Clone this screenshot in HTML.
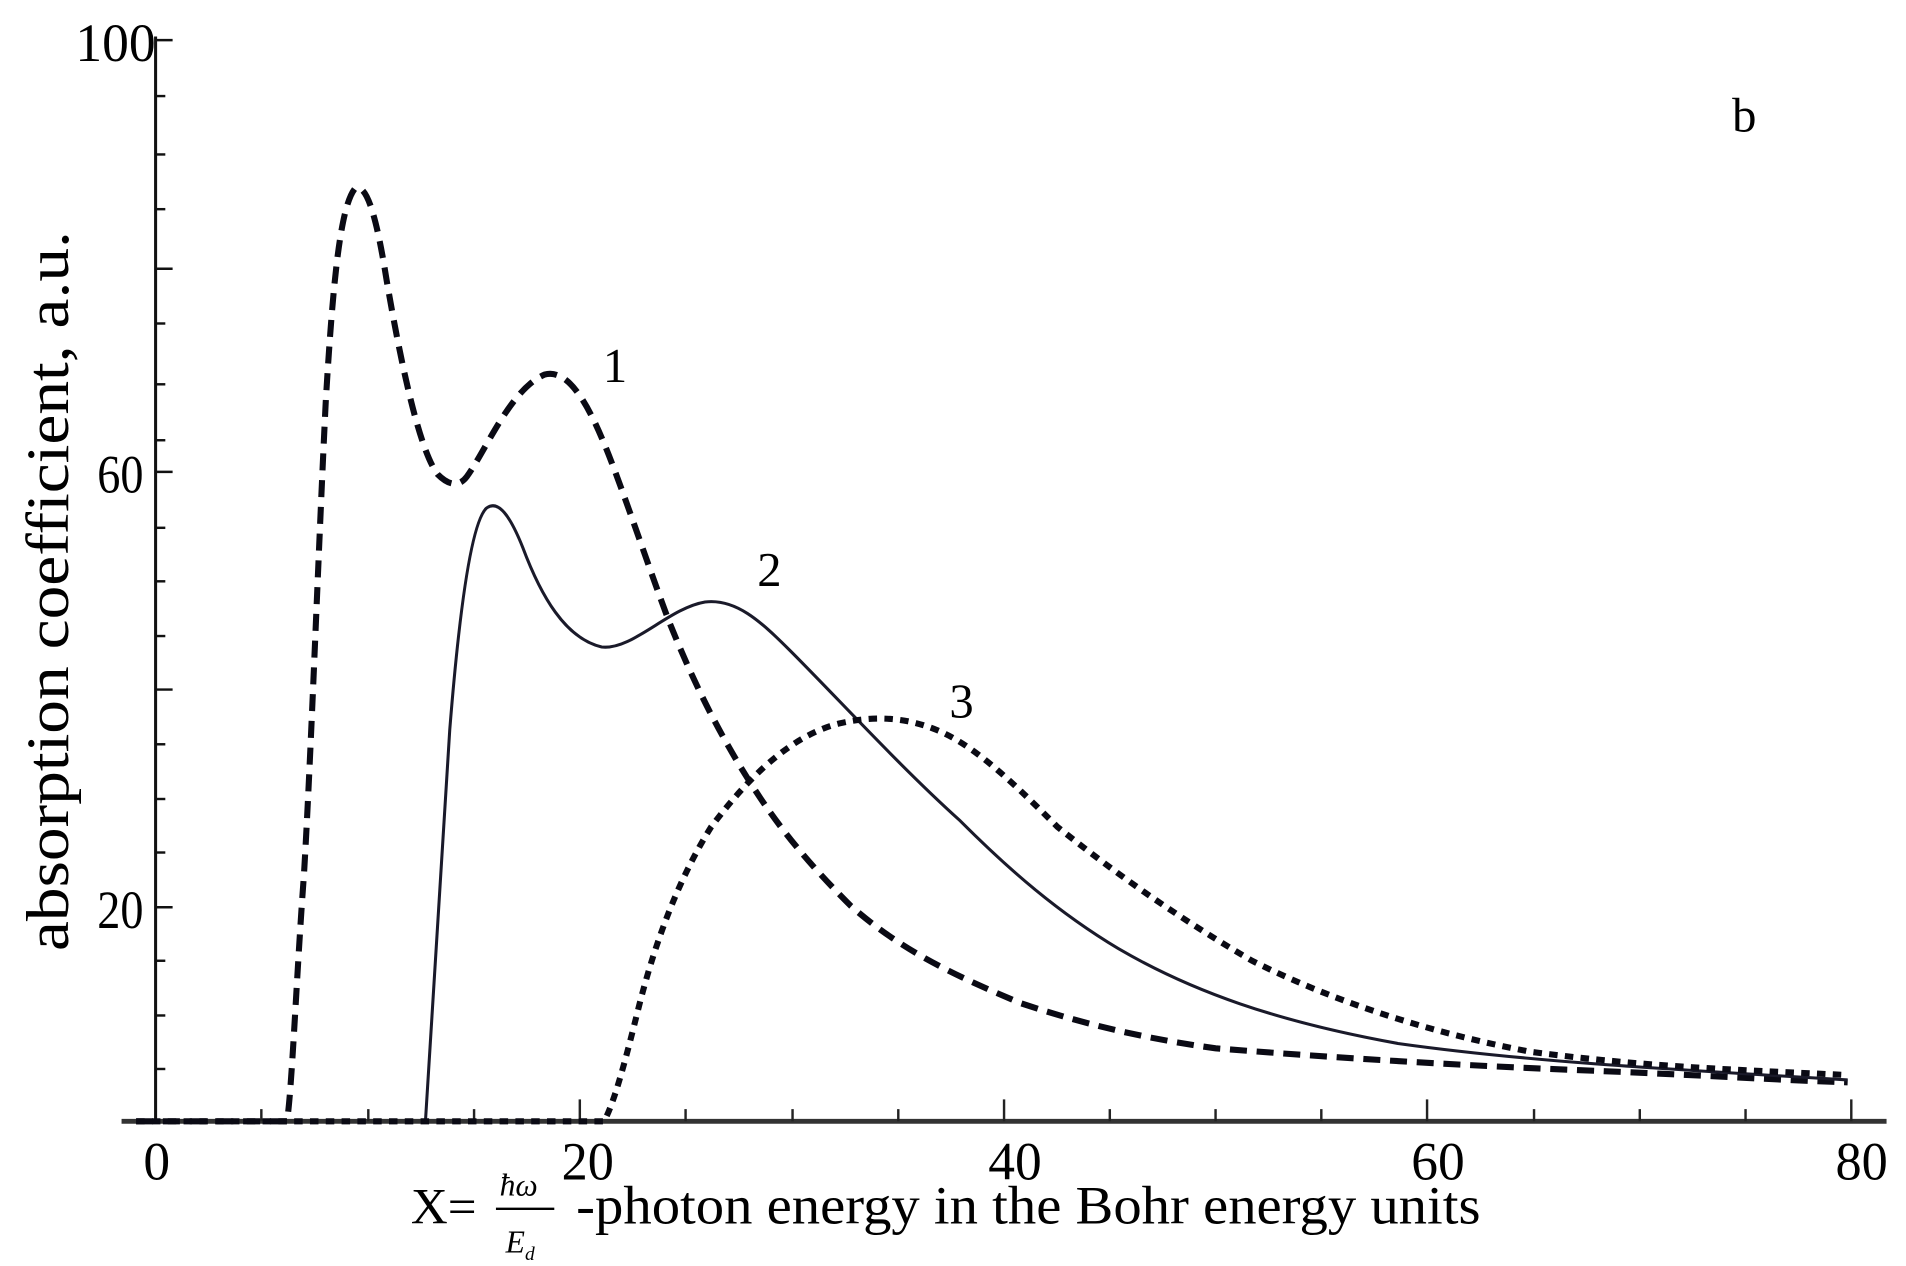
<!DOCTYPE html>
<html><head><meta charset="utf-8"><style>
html,body{margin:0;padding:0;background:#fff;}
svg{display:block;}
text{font-family:"Liberation Serif",serif;fill:#000;}
</style></head><body>
<svg width="1906" height="1266" viewBox="0 0 1568 1041" preserveAspectRatio="none" xmlns="http://www.w3.org/2000/svg">
<rect width="1568" height="1041" fill="#fff"/>
<line x1="128" y1="30" x2="128" y2="924" stroke="#111" stroke-width="2.5"/>
<line x1="100" y1="922" x2="1552" y2="922" stroke="#333" stroke-width="4"/>
<g stroke="#111" stroke-width="2">
<line x1="128" y1="33" x2="142" y2="33"/>
<line x1="128" y1="79" x2="136" y2="79"/>
<line x1="128" y1="127" x2="136" y2="127"/>
<line x1="128" y1="172" x2="136" y2="172"/>
<line x1="128" y1="221" x2="142" y2="221"/>
<line x1="128" y1="266" x2="136" y2="266"/>
<line x1="128" y1="316" x2="136" y2="316"/>
<line x1="128" y1="362" x2="136" y2="362"/>
<line x1="128" y1="388" x2="142" y2="388"/>
<line x1="128" y1="434" x2="136" y2="434"/>
<line x1="128" y1="478" x2="136" y2="478"/>
<line x1="128" y1="523" x2="136" y2="523"/>
<line x1="128" y1="567" x2="142" y2="567"/>
<line x1="128" y1="612" x2="136" y2="612"/>
<line x1="128" y1="657" x2="136" y2="657"/>
<line x1="128" y1="701" x2="136" y2="701"/>
<line x1="128" y1="746" x2="142" y2="746"/>
<line x1="128" y1="790" x2="136" y2="790"/>
<line x1="128" y1="835" x2="136" y2="835"/>
<line x1="128" y1="879" x2="136" y2="879"/>
</g>
<g stroke="#222" stroke-width="2">
<line x1="215" y1="922" x2="215" y2="912"/>
<line x1="303" y1="922" x2="303" y2="912"/>
<line x1="390" y1="922" x2="390" y2="912"/>
<line x1="477" y1="922" x2="477" y2="904"/>
<line x1="564" y1="922" x2="564" y2="912"/>
<line x1="652" y1="922" x2="652" y2="912"/>
<line x1="739" y1="922" x2="739" y2="912"/>
<line x1="826" y1="922" x2="826" y2="904"/>
<line x1="913" y1="922" x2="913" y2="912"/>
<line x1="1000" y1="922" x2="1000" y2="912"/>
<line x1="1087" y1="922" x2="1087" y2="912"/>
<line x1="1174" y1="922" x2="1174" y2="904"/>
<line x1="1262" y1="922" x2="1262" y2="912"/>
<line x1="1349" y1="922" x2="1349" y2="912"/>
<line x1="1436" y1="922" x2="1436" y2="912"/>
<line x1="1523" y1="922" x2="1523" y2="904"/>
</g>
<g font-size="44">
<text x="62" y="50" textLength="66" lengthAdjust="spacingAndGlyphs">100</text>
<text x="80" y="405" textLength="38" lengthAdjust="spacingAndGlyphs">60</text>
<text x="80" y="763" textLength="38" lengthAdjust="spacingAndGlyphs">20</text>
<text x="118" y="970" textLength="22" lengthAdjust="spacingAndGlyphs">0</text>
<text x="462" y="970" textLength="43" lengthAdjust="spacingAndGlyphs">20</text>
<text x="813" y="970" textLength="44" lengthAdjust="spacingAndGlyphs">40</text>
<text x="1161" y="970" textLength="44" lengthAdjust="spacingAndGlyphs">60</text>
<text x="1510" y="970" textLength="43" lengthAdjust="spacingAndGlyphs">80</text>
</g>
<text x="0" y="0" font-size="50" transform="translate(56,782) rotate(-90)" textLength="592" lengthAdjust="spacingAndGlyphs">absorption  coefficient, a.u.</text>
<text x="338" y="1006" font-size="42">X=</text>
<text x="411" y="983" font-size="26" font-style="italic">ħω</text>
<line x1="408" y1="994" x2="456" y2="994" stroke="#000" stroke-width="2"/>
<text x="416" y="1030" font-size="26" font-style="italic">E<tspan font-size="16" dy="6">d</tspan></text>
<text x="474" y="1006" font-size="44" textLength="744" lengthAdjust="spacingAndGlyphs">-photon energy  in the Bohr energy units</text>
<g font-size="40">
<text x="496" y="314">1</text>
<text x="623" y="482">2</text>
<text x="781" y="590">3</text>
<text x="1425" y="108">b</text>
</g>
<path fill="none" stroke="#0a0a14" stroke-width="5" stroke-dasharray="14 8"
d="M112,922 L236,922 C240,900 244,800 250,720 C256,620 262,450 268,330 C274,230 280,170 292,155 C302,150 310,180 318,230 C330,300 345,370 360,390 C370,400 378,400 384,392 C400,370 420,320 448,308 C470,302 488,340 505,385 C520,425 535,470 550,510 C570,560 590,600 615,640 C640,680 665,710 700,745 C740,780 780,800 840,825 C900,845 950,855 1000,862 C1100,870 1200,876 1300,880 C1400,884 1460,888 1520,890"/>
<path fill="none" stroke="#1a1a2a" stroke-width="2.5"
d="M350,922 C356,840 362,720 370,600 C378,500 388,430 400,418 C410,410 420,425 430,450 C445,490 465,525 495,532 C520,535 550,500 580,495 C605,492 625,510 650,535 C690,575 740,630 790,675 C830,715 870,750 920,780 C980,815 1050,840 1150,858 C1250,872 1350,878 1520,888"/>
<path fill="none" stroke="#0a0a14" stroke-width="5" stroke-dasharray="7 6"
d="M112,922 L497,922 C506,905 515,870 525,830 C540,770 560,720 585,680 C615,640 650,605 690,595 C720,588 745,590 770,600 C800,612 830,640 870,680 C920,720 970,755 1030,790 C1100,825 1180,850 1260,865 C1360,878 1440,880 1520,884"/>
</svg>
</body></html>
